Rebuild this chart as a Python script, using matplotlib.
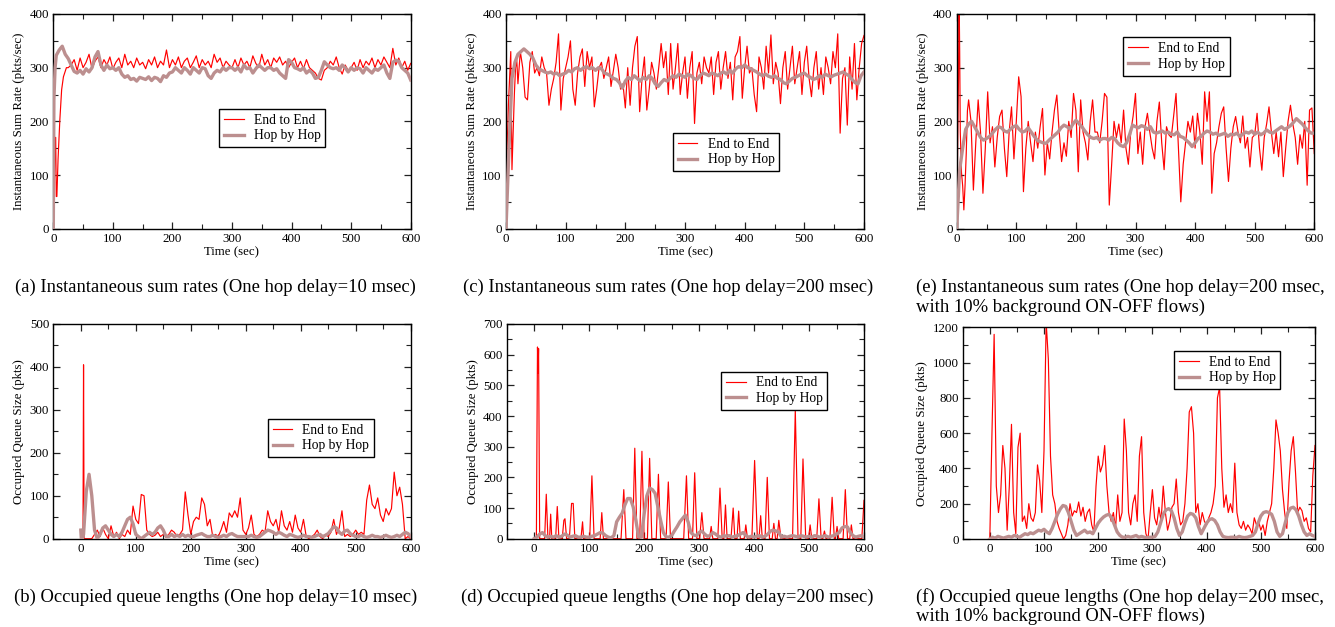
import numpy as np
import matplotlib
matplotlib.use("Agg")
import matplotlib.pyplot as plt
from matplotlib.ticker import MultipleLocator

plt.rcParams['font.family'] = ['Liberation Serif', 'DejaVu Serif']

# ---------------- data ----------------
# (a) sum rate, one hop delay 10 msec
a_e2e_t0 = [0, 2, 3, 4, 5, 6, 8, 11, 14, 17, 22]
a_e2e_v0 = [0, 100, 170, 170, 60, 60, 130, 203, 259, 283, 300]
a_e2e_v = [  # t = 25..600 step 5
    300, 305, 315, 295, 318, 300, 310, 325, 298, 312,
    320, 300, 315, 305, 320, 298, 310, 318, 300, 325,
    305, 312, 300, 318, 305, 310, 298, 315, 305, 320,
    300, 312, 305, 333, 300, 315, 305, 320, 300, 312,
    318, 300, 310, 322, 300, 315, 305, 312, 300, 325,
    310, 318, 300, 312, 305, 300, 315, 300, 318, 305,
    312, 300, 322, 308, 300, 325, 305, 315, 300, 318,
    310, 320, 305, 312, 300, 310, 318, 300, 312, 298,
    315, 300, 295, 290, 280, 277, 295, 300, 312, 305,
    320, 300, 288, 305, 295, 300, 310, 295, 315, 300,
    312, 305, 318, 300, 315, 305, 320, 310, 300, 336,
    305, 318, 300, 312, 295, 308]
a_hbh_t0 = [0, 1, 3]
a_hbh_v0 = [0, 240, 300]
a_hbh_v = [  # t = 5..600 step 5
    323, 333, 340, 325, 317, 305, 293, 290, 295, 288,
    298, 292, 300, 320, 330, 305, 295, 305, 298, 300,
    295, 300, 288, 282, 285, 278, 280, 275, 282, 280,
    278, 283, 276, 282, 280, 274, 285, 282, 290, 292,
    300, 295, 290, 300, 295, 288, 300, 295, 290, 300,
    298, 285, 280, 290, 295, 292, 300, 295, 300, 300,
    295, 300, 292, 305, 298, 300, 290, 298, 305, 300,
    295, 300, 300, 295, 298, 290, 285, 280, 315, 310,
    300, 298, 295, 300, 290, 295, 290, 280, 282, 295,
    311, 305, 300, 298, 300, 295, 305, 300, 292, 300,
    295, 300, 298, 290, 300, 295, 290, 298, 295, 300,
    305, 290, 280, 310, 314, 312, 300, 295, 290, 277]

# (c) sum rate, one hop delay 200 msec
c_e2e_t0 = [0, 2, 4, 6, 8, 10, 12, 14, 16, 18]
c_e2e_v0 = [0, 150, 230, 280, 330, 110, 180, 250, 300, 315]
c_e2e_v = [  # t = 20..600 step 4
    270, 330, 300, 245, 240, 310, 330, 290, 300, 285,
    320, 300, 290, 230, 260, 280, 310, 363, 221, 280,
    300, 320, 350, 260, 230, 290, 320, 335, 265, 330,
    300, 320, 227, 260, 300, 310, 280, 300, 320, 265,
    295, 325, 300, 260, 270, 225, 300, 230, 300, 340,
    358, 218, 280, 320, 221, 260, 310, 290, 260, 300,
    345, 300, 330, 250, 345, 260, 300, 345, 250, 290,
    320, 243, 300, 330, 196, 290, 310, 270, 320, 300,
    290, 320, 250, 310, 330, 260, 300, 330, 280, 310,
    240, 320, 330, 358, 243, 300, 340, 290, 300, 250,
    218, 320, 300, 260, 340, 290, 361, 270, 310, 290,
    233, 300, 330, 260, 300, 340, 270, 300, 330, 250,
    310, 340, 280, 246, 300, 330, 260, 300, 250, 320,
    300, 270, 330, 300, 363, 178, 280, 300, 193, 320,
    260, 345, 240, 300, 345, 360]
c_hbh_v = [  # t = 0..600 step 5
    0, 150, 280, 310, 325, 330, 335, 330, 325, 318,
    305, 298, 295, 292, 290, 292, 288, 290, 285, 288,
    290, 295, 292, 298, 300, 295, 300, 302, 298, 300,
    295, 300, 298, 290, 288, 285, 280, 278, 272, 262,
    275, 282, 278, 285, 280, 275, 282, 278, 285, 280,
    270, 265, 272, 278, 275, 280, 285, 282, 288, 285,
    282, 288, 285, 280, 278, 285, 290, 288, 285, 290,
    288, 285, 290, 292, 288, 295, 290, 298, 302, 300,
    305, 300, 298, 295, 292, 288, 285, 288, 284, 282,
    285, 280, 278, 272, 270, 275, 280, 282, 285, 288,
    290, 285, 282, 278, 280, 285, 282, 288, 285, 283,
    286, 288, 290, 292, 288, 285, 278, 272, 270, 285,
    292]

# (e) sum rate, 200 msec with background ON-OFF flows
e_e2e_t0 = [0, 2, 3, 4, 5, 6, 8, 10, 12, 14, 16, 18]
e_e2e_v0 = [0, 180, 280, 440, 330, 180, 105, 80, 35, 80, 140, 220]
e_e2e_v = [  # t = 20..600 step 4
    240, 200, 72, 160, 240, 180, 66, 150, 255, 160,
    190, 115, 170, 209, 221, 150, 97, 180, 227, 130,
    200, 283, 246, 69, 150, 200, 160, 125, 180, 150,
    190, 224, 100, 160, 130, 180, 221, 249, 180, 125,
    160, 135, 200, 170, 252, 220, 106, 240, 180, 160,
    128, 200, 240, 180, 180, 160, 200, 252, 245, 44,
    120, 200, 170, 195, 160, 221, 150, 120, 180, 210,
    252, 140, 180, 120, 190, 215, 180, 150, 130, 200,
    236, 160, 110, 190, 175, 170, 210, 252, 150, 50,
    120, 160, 200, 180, 210, 150, 215, 180, 120, 255,
    200, 255, 66, 140, 160, 190, 215, 227, 150, 88,
    150, 190, 209, 180, 160, 210, 150, 170, 115, 170,
    175, 215, 150, 109, 170, 195, 227, 180, 140, 180,
    134, 180, 97, 150, 200, 230, 195, 170, 120, 175,
    150, 200, 81, 221, 225, 140]
e_hbh_v = [  # t = 0..600 step 5
    0, 110, 150, 185, 195, 200, 190, 180, 170, 165,
    168, 172, 178, 185, 190, 188, 182, 180, 185, 190,
    192, 185, 180, 182, 188, 180, 172, 165, 162, 160,
    159, 165, 170, 175, 180, 188, 193, 190, 186, 195,
    202, 196, 190, 182, 175, 170, 168, 170, 165, 168,
    168, 165, 170, 168, 160, 155, 153, 160, 175, 193,
    190, 188, 192, 190, 185, 190, 180, 178, 180, 182,
    178, 180, 176, 175, 180, 172, 170, 165, 160, 153,
    160, 168, 172, 178, 182, 180, 176, 178, 174, 176,
    178, 172, 176, 175, 178, 172, 176, 180, 178, 182,
    176, 180, 175, 178, 184, 180, 178, 182, 186, 190,
    185, 188, 192, 198, 205, 200, 195, 188, 182, 178,
    178]

# (b) queue, 10 msec
b_e2e_t0 = [0, 4, 5, 6, 7]
b_e2e_v0 = [0, 0, 405, 0, 0]
b_e2e_v = [  # t = 10..600 step 5
    0, 0, 0, 10, 20, 5, 25, 10, 0, 30,
    5, 15, 0, 10, 5, 20, 10, 76, 45, 35,
    103, 100, 20, 10, 5, 8, 15, 5, 10, 5,
    10, 20, 15, 5, 10, 20, 109, 55, 10, 40,
    50, 45, 95, 80, 30, 45, 5, 10, 5, 20,
    40, 15, 60, 50, 65, 50, 95, 20, 10, 25,
    55, 10, 5, 10, 20, 15, 65, 40, 30, 45,
    15, 65, 30, 20, 40, 15, 55, 25, 15, 45,
    5, 0, 5, 10, 20, 5, 0, 10, 5, 15,
    45, 10, 25, 65, 5, 10, 5, 10, 20, 10,
    15, 10, 90, 125, 80, 70, 95, 55, 40, 70,
    55, 70, 155, 100, 120, 80, 0, 5, 0]
b_hbh_t0 = [0, 1, 3]
b_hbh_v0 = [20, 0, 0]
b_hbh_v = [  # t = 5..600 step 5
    10, 110, 150, 100, 20, 0, 10, 25, 30, 20,
    10, 5, 10, 5, 15, 30, 45, 50, 35, 10,
    5, 0, 5, 10, 15, 10, 15, 25, 30, 20,
    5, 5, 10, 5, 8, 5, 10, 5, 8, 5,
    5, 8, 10, 12, 8, 5, 5, 8, 5, 3,
    5, 8, 5, 10, 12, 8, 5, 5, 5, 5,
    5, 8, 5, 3, 5, 10, 15, 20, 18, 15,
    10, 15, 12, 8, 5, 10, 8, 5, 3, 5,
    8, 5, 5, 3, 5, 8, 10, 5, 8, 12,
    20, 28, 25, 15, 10, 18, 20, 12, 8, 5,
    5, 8, 5, 3, 5, 8, 5, 5, 3, 5,
    8, 5, 3, 5, 8, 5, 10, 15, 12, 5]

# (d) queue, 200 msec
d_e2e_t = [0, 4, 6, 7, 8, 10, 19, 22, 25, 28, 30, 32, 39, 42, 45, 51, 54, 56, 59,
           64, 68, 71, 74, 85, 88, 90, 101, 105, 109, 120, 123, 126, 158, 163, 167,
           179, 183, 187, 192, 196, 200, 206, 210, 214, 222, 226, 230, 240, 244, 248,
           272, 277, 281, 288, 292, 296, 301, 305, 309, 319, 322, 325, 334, 338, 342,
           345, 348, 351, 358, 362, 365, 369, 372, 375, 382, 385, 388, 396, 401, 406,
           409, 412, 415, 420, 424, 428, 433, 436, 439, 442, 445, 449, 470, 475, 480,
           485, 489, 494, 499, 502, 505, 514, 518, 522, 525, 528, 531, 538, 542, 546,
           548, 551, 554, 562, 566, 570, 574, 577, 580, 596, 600]
d_e2e_v = [0, 0, 625, 540, 620, 0, 0, 145, 0, 0, 80, 0, 0, 105, 0, 0, 60, 65, 0,
           0, 115, 115, 0, 0, 55, 0, 0, 205, 0, 0, 85, 0, 0, 160, 0,
           0, 295, 0, 0, 285, 0, 0, 262, 0, 0, 210, 0, 0, 185, 0,
           0, 205, 0, 0, 215, 0, 0, 85, 0, 0, 40, 0, 0, 165, 0,
           0, 110, 0, 0, 100, 0, 0, 90, 0, 0, 45, 0, 0, 255, 0,
           0, 75, 0, 0, 200, 0, 0, 50, 0, 0, 60, 0, 0, 420, 0,
           0, 260, 0, 0, 45, 0, 0, 130, 0, 0, 25, 0, 0, 135, 0,
           0, 40, 0, 0, 160, 0, 0, 45, 0, 0, 125]
d_hbh_v = [  # t = 0..600 step 5
    0, 5, 15, 20, 10, 5, 8, 5, 10, 5,
    8, 15, 12, 5, 8, 10, 5, 5, 8, 5,
    5, 8, 10, 15, 20, 18, 10, 5, 3, 10,
    55, 70, 83, 110, 131, 131, 104, 60, 6, 5,
    80, 140, 165, 160, 148, 104, 60, 20, 6, 5,
    10, 25, 39, 55, 66, 77, 55, 20, 12, 10,
    20, 25, 15, 8, 10, 20, 15, 8, 5, 10,
    8, 10, 5, 8, 10, 15, 20, 10, 5, 8,
    5, 8, 10, 5, 8, 15, 25, 28, 25, 20,
    5, 8, 5, 8, 10, 8, 5, 10, 8, 5,
    8, 5, 10, 8, 5, 8, 10, 5, 8, 10,
    15, 20, 35, 40, 38, 20, 10, 5, 8, 10,
    5]

# (f) queue, 200 msec with background ON-OFF flows
f_e2e_v = [  # t = 0..600 step 4
    0, 600, 1160, 300, 150, 250, 530, 400, 50, 300,
    650, 150, 30, 520, 600, 100, 130, 60, 200, 120,
    100, 150, 420, 330, 150, 500, 1230, 1020, 470, 250,
    200, 100, 60, 30, 0, 20, 80, 200, 130, 160,
    150, 210, 130, 180, 100, 150, 170, 80, 40, 300,
    470, 380, 420, 530, 300, 150, 100, 150, 60, 250,
    100, 150, 680, 500, 150, 80, 200, 250, 100, 470,
    580, 150, 30, 0, 150, 280, 120, 80, 180, 100,
    300, 150, 50, 100, 180, 200, 340, 150, 80, 100,
    200, 400, 720, 750, 600, 150, 200, 80, 150, 100,
    80, 120, 150, 200, 300, 800, 860, 400, 180, 250,
    150, 200, 150, 430, 150, 80, 60, 100, 50, 80,
    60, 30, 120, 80, 100, 50, 80, 20, 100, 150,
    200, 400, 675, 600, 500, 280, 150, 60, 320, 500,
    580, 380, 150, 180, 160, 100, 120, 60, 40, 360, 530]
f_hbh_v = [  # t = 0..600 step 5
    0, 10, 5, 15, 10, 5, 10, 15, 10, 20,
    15, 10, 20, 30, 25, 35, 30, 40, 50, 45,
    55, 40, 30, 60, 100, 140, 170, 190, 185, 150,
    100, 50, 20, 30, 40, 50, 35, 40, 30, 60,
    90, 110, 125, 135, 140, 120, 80, 40, 20, 10,
    10, 15, 10, 15, 20, 10, 15, 10, 8, 10,
    10, 15, 40, 90, 140, 165, 172, 160, 120, 60,
    20, 40, 90, 130, 145, 140, 120, 70, 30, 60,
    90, 110, 115, 105, 80, 40, 15, 10, 8, 10,
    10, 8, 15, 10, 8, 10, 15, 20, 40, 90,
    130, 150, 155, 150, 140, 100, 40, 15, 30, 90,
    150, 175, 180, 165, 130, 80, 40, 20, 30, 20,
    15]

legend_labels = ["End to End", "Hop by Hop"]
captions = {
    'a': ["(a) Instantaneous sum rates (One hop delay=10 msec)"],
    'c': ["(c) Instantaneous sum rates (One hop delay=200 msec)"],
    'e': ["(e) Instantaneous sum rates (One hop delay=200 msec,",
          "with 10% background ON-OFF flows)"],
    'b': ["(b) Occupied queue lengths (One hop delay=10 msec)"],
    'd': ["(d) Occupied queue lengths (One hop delay=200 msec)"],
    'f': ["(f) Occupied queue lengths (One hop delay=200 msec,",
          "with 10% background ON-OFF flows)"],
}

# ---------------- series assembly ----------------
def cat(t0, v0, start, step, v):
    t = np.concatenate([np.asarray(t0, float), np.arange(len(v)) * step + start])
    return t, np.concatenate([np.asarray(v0, float), np.asarray(v, float)])

series = {
    'a': (cat(a_e2e_t0, a_e2e_v0, 25, 5, a_e2e_v), cat(a_hbh_t0, a_hbh_v0, 5, 5, a_hbh_v)),
    'c': (cat(c_e2e_t0, c_e2e_v0, 20, 4, c_e2e_v), cat([], [], 0, 5, c_hbh_v)),
    'e': (cat(e_e2e_t0, e_e2e_v0, 20, 4, e_e2e_v), cat([], [], 0, 5, e_hbh_v)),
    'b': (cat(b_e2e_t0, b_e2e_v0, 10, 5, b_e2e_v), cat(b_hbh_t0, b_hbh_v0, 5, 5, b_hbh_v)),
    'd': ((np.array(d_e2e_t, float), np.array(d_e2e_v, float)), cat([], [], 0, 5, d_hbh_v)),
    'f': (cat([], [], 0, 4, f_e2e_v), cat([], [], 0, 5, f_hbh_v)),
}

# ---------------- layout ----------------
W, H = 1335, 627
fig = plt.figure(figsize=(W / 100, H / 100), dpi=100)

def px_axes(x0, y0, x1, y1):
    return fig.add_axes([x0 / W, 1 - y1 / H, (x1 - x0) / W, (y1 - y0) / H])

boxes = {
    'a': (53.3, 14, 410.7, 228.7), 'c': (506, 14, 864, 228.7), 'e': (956.7, 14, 1314.3, 228.7),
    'b': (53.3, 324, 410.7, 538.7), 'd': (506.7, 324, 864, 538.7), 'f': (962.7, 327.3, 1315, 539),
}
ylims = {'a': (0, 400, 100, 50), 'c': (0, 400, 100, 50), 'e': (0, 400, 100, 50),
         'b': (0, 500, 100, 50), 'd': (0, 700, 100, 50), 'f': (0, 1200, 200, 100)}
xlims = {'a': (0, 600), 'c': (0, 600), 'e': (0, 600),
         'b': (-50, 600), 'd': (-50, 600), 'f': (-50, 600)}
legpos = {'a': (0.464, 0.558), 'c': (0.466, 0.446), 'e': (0.466, 0.891),
          'b': (0.600, 0.558), 'd': (0.600, 0.778), 'f': (0.600, 0.889)}
ylabels = {'a': "Instantaneous Sum Rate (pkts/sec)", 'c': "Instantaneous Sum Rate (pkts/sec)",
           'e': "Instantaneous Sum Rate (pkts/sec)", 'b': "Occupied Queue Size (pkts)",
           'd': "Occupied Queue Size (pkts)", 'f': "Occupied Queue Size (pkts)"}

RED = '#ff0000'
BROWN = '#bc8f8f'
FS = 9.3

for key, box in boxes.items():
    ax = px_axes(*box)
    (te, ve), (th, vh) = series[key]
    ax.plot(te, ve, color=RED, lw=0.85, label=legend_labels[0], zorder=2)
    ax.plot(th, vh, color=BROWN, lw=2.4, label=legend_labels[1], zorder=3)
    ymin, ymax, ymaj, ymi = ylims[key]
    ax.set_ylim(ymin, ymax)
    ax.set_xlim(*xlims[key])
    ax.xaxis.set_major_locator(MultipleLocator(100))
    ax.xaxis.set_minor_locator(MultipleLocator(50))
    ax.yaxis.set_major_locator(MultipleLocator(ymaj))
    ax.yaxis.set_minor_locator(MultipleLocator(ymi))
    ax.tick_params(which='both', direction='in', top=True, right=True, labelsize=FS,
                   colors='#222222', labelcolor='black')
    ax.tick_params(which='major', length=5, width=0.9, pad=3)
    ax.tick_params(which='minor', length=3.5, width=0.8)
    for s in ax.spines.values():
        s.set_linewidth(1.0)
        s.set_color('black')
    ax.set_xlabel("Time (sec)", fontsize=FS, labelpad=1)
    ax.set_ylabel(ylabels[key], fontsize=FS, labelpad=3)
    leg = ax.legend(loc='upper left', bbox_to_anchor=legpos[key], fontsize=FS + 0.5,
                    frameon=True, fancybox=False, edgecolor='black', framealpha=1,
                    handlelength=1.45, handletextpad=0.75, borderpad=0.35,
                    labelspacing=0.2, borderaxespad=0)
    leg.get_frame().set_linewidth(1.0)

# captions
CFS = 13.4
cap_pos = {'a': (215.5, [287]), 'c': (668.5, [287]), 'b': (215.5, [597]), 'd': (667, [597])}
for k, (cx, ys) in cap_pos.items():
    fig.text(cx / W, 1 - ys[0] / H, captions[k][0], ha='center', va='center', fontsize=CFS)
for k, ys in (('e', [287, 307]), ('f', [597, 616])):
    for line, y in zip(captions[k], ys):
        fig.text(916 / W, 1 - y / H, line, ha='left', va='center', fontsize=CFS)

fig.savefig("out.png", dpi=100)
